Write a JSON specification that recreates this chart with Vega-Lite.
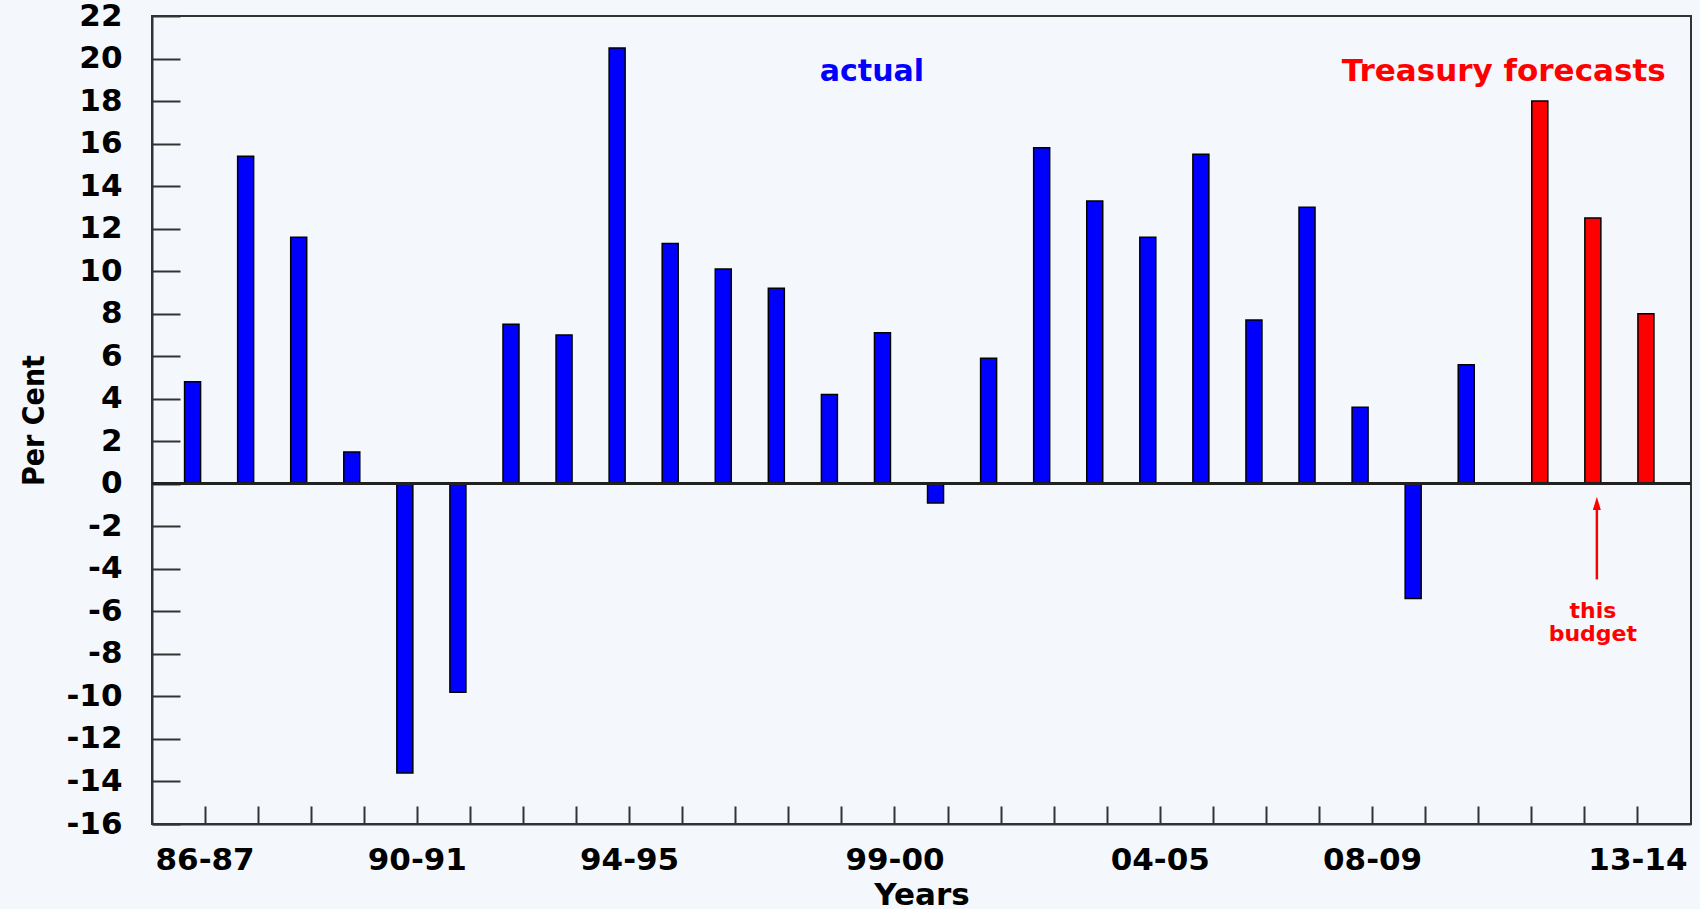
{
  "$schema": "https://vega.github.io/schema/vega-lite/v6.json",
  "autosize": {"type": "none"},
  "width": 1539,
  "height": 808,
  "padding": {"left": 152, "top": 16, "right": 9, "bottom": 85},
  "background": "#f4f8fd",
  "config": {
    "view": {"stroke": "#333333", "strokeWidth": 2, "fill": "#f4f8fd"},
    "font": "DejaVu Sans"
  },
  "datasets": {
    "growth": [
      {"year": "86-87", "value": 4.8, "type": "actual"},
      {"year": "87-88", "value": 15.4, "type": "actual"},
      {"year": "88-89", "value": 11.6, "type": "actual"},
      {"year": "89-90", "value": 1.5, "type": "actual"},
      {"year": "90-91", "value": -13.6, "type": "actual"},
      {"year": "91-92", "value": -9.8, "type": "actual"},
      {"year": "92-93", "value": 7.5, "type": "actual"},
      {"year": "93-94", "value": 7.0, "type": "actual"},
      {"year": "94-95", "value": 20.5, "type": "actual"},
      {"year": "95-96", "value": 11.3, "type": "actual"},
      {"year": "96-97", "value": 10.1, "type": "actual"},
      {"year": "97-98", "value": 9.2, "type": "actual"},
      {"year": "98-99", "value": 4.2, "type": "actual"},
      {"year": "99-00", "value": 7.1, "type": "actual"},
      {"year": "00-01", "value": -0.9, "type": "actual"},
      {"year": "01-02", "value": 5.9, "type": "actual"},
      {"year": "02-03", "value": 15.8, "type": "actual"},
      {"year": "03-04", "value": 13.3, "type": "actual"},
      {"year": "04-05", "value": 11.6, "type": "actual"},
      {"year": "05-06", "value": 15.5, "type": "actual"},
      {"year": "06-07", "value": 7.7, "type": "actual"},
      {"year": "07-08", "value": 13.0, "type": "actual"},
      {"year": "08-09", "value": 3.6, "type": "actual"},
      {"year": "09-10", "value": -5.4, "type": "actual"},
      {"year": "10-11", "value": 5.6, "type": "actual"},
      {"year": "11-12", "value": 18.0, "type": "forecast"},
      {"year": "12-13", "value": 12.5, "type": "forecast"},
      {"year": "13-14", "value": 8.0, "type": "forecast"}
    ],
    "notes": [
      {"label": "actual", "year": "98-99", "value": 18.96, "group": "actual"},
      {"label": "Treasury forecasts", "year": "10-11", "value": 18.95, "group": "forecast"},
      {"label": "this", "year": "12-13", "value": -6.31, "group": "budget"},
      {"label": "budget", "year": "12-13", "value": -7.4, "group": "budget"}
    ],
    "arrow": [
      {"year": "12-13", "from": -4.5, "to": -1.2, "tip": -0.92}
    ]
  },
  "data": {"name": "growth"},
  "encoding": {
    "y": {
      "field": "value",
      "type": "quantitative",
      "scale": {"domain": [-16, 22], "nice": false, "zero": false},
      "axis": {
        "title": "Per Cent",
        "titleFont": "DejaVu Sans Condensed, Liberation Sans, sans-serif",
        "titleFontSize": 30,
        "titleFontWeight": "bold",
        "titleColor": "#000000",
        "titleAngle": -90,
        "titleBaseline": "alphabetic",
        "titleAlign": "center",
        "titleX": -109,
        "titleY": 404,
        "values": [-16,-14,-12,-10,-8,-6,-4,-2,0,2,4,6,8,10,12,14,16,18,20,22],
        "labelExpr": "'' + datum.value",
        "labelFont": "DejaVu Sans",
        "labelFontSize": 31,
        "labelFontWeight": "bold",
        "labelColor": "#000000",
        "labelPadding": 58,
        "labelOverlap": false,
        "tickSize": -28,
        "tickColor": "#333333",
        "tickWidth": 2,
        "domainColor": "#333333",
        "domainWidth": 2,
        "grid": false
      }
    }
  },
  "layer": [
    {
      "transform": [{"filter": "datum.type === 'actual'"}],
      "mark": {"type": "bar", "width": 16, "xOffset": -12.5, "color": "#0000ff", "stroke": "#000000", "strokeWidth": 1.5},
      "encoding": {
        "x": {
          "field": "year",
          "type": "nominal",
          "scale": {
            "domain": ["86-87","87-88","88-89","89-90","90-91","91-92","92-93","93-94","94-95","95-96","96-97","97-98","98-99","99-00","00-01","01-02","02-03","03-04","04-05","05-06","06-07","07-08","08-09","09-10","10-11","11-12","12-13","13-14"],
            "paddingInner": 0,
            "paddingOuter": 0.5
          },
          "axis": {
            "title": "Years",
            "titleFont": "DejaVu Sans",
            "titleFontSize": 31,
            "titleFontWeight": "bold",
            "titleColor": "#000000",
            "titleBaseline": "alphabetic",
            "titleY": 80,
            "labelAngle": 0,
            "labelFont": "DejaVu Sans",
            "labelFontSize": 31,
            "labelFontWeight": "bold",
            "labelColor": "#000000",
            "labelBaseline": "top",
            "labelPadding": 39,
            "labelOverlap": false,
            "labelExpr": "(datum.value == '86-87' || datum.value == '90-91' || datum.value == '94-95' || datum.value == '99-00' || datum.value == '04-05' || datum.value == '08-09' || datum.value == '13-14') ? datum.value : ''",
            "tickSize": -18,
            "tickColor": "#333333",
            "tickWidth": 2,
            "domainColor": "#333333",
            "domainWidth": 2,
            "grid": false
          }
        },
        "y2": {"datum": 0}
      }
    },
    {
      "transform": [{"filter": "datum.type === 'forecast'"}],
      "mark": {"type": "bar", "width": 16, "xOffset": 8, "color": "#ff0000", "stroke": "#000000", "strokeWidth": 1.5},
      "encoding": {
        "x": {"field": "year", "type": "nominal"},
        "y2": {"datum": 0}
      }
    },
    {
      "mark": {"type": "rule", "color": "#222222", "strokeWidth": 2},
      "encoding": {"y": {"datum": 0}}
    },
    {
      "data": {"name": "arrow"},
      "mark": {"type": "rule", "color": "#ff0000", "strokeWidth": 2.5, "xOffset": 12},
      "encoding": {
        "x": {"field": "year", "type": "nominal"},
        "y": {"field": "from", "type": "quantitative"},
        "y2": {"field": "to"}
      }
    },
    {
      "data": {"name": "arrow"},
      "mark": {"type": "point", "shape": "M-0.6,1L0,-1L0.6,1Z", "size": 180, "filled": true, "opacity": 1, "color": "#ff0000", "xOffset": 12},
      "encoding": {
        "x": {"field": "year", "type": "nominal"},
        "y": {"field": "tip", "type": "quantitative"}
      }
    },
    {
      "data": {"name": "notes"},
      "transform": [{"filter": "datum.group === 'actual'"}],
      "mark": {"type": "text", "font": "DejaVu Sans", "fontWeight": "bold", "fontSize": 30, "color": "#0000ff", "align": "center", "baseline": "alphabetic", "dx": 30},
      "encoding": {
        "x": {"field": "year", "type": "nominal"},
        "text": {"field": "label"}
      }
    },
    {
      "data": {"name": "notes"},
      "transform": [{"filter": "datum.group === 'forecast'"}],
      "mark": {"type": "text", "font": "DejaVu Sans", "fontWeight": "bold", "fontSize": 31, "color": "#ff0000", "align": "center", "baseline": "alphabetic", "dx": 25},
      "encoding": {
        "x": {"field": "year", "type": "nominal"},
        "text": {"field": "label"}
      }
    },
    {
      "data": {"name": "notes"},
      "transform": [{"filter": "datum.group === 'budget'"}],
      "mark": {"type": "text", "font": "DejaVu Sans", "fontWeight": "bold", "fontSize": 22, "color": "#ff0000", "align": "center", "baseline": "alphabetic", "dx": 8},
      "encoding": {
        "x": {"field": "year", "type": "nominal"},
        "text": {"field": "label"}
      }
    }
  ]
}
